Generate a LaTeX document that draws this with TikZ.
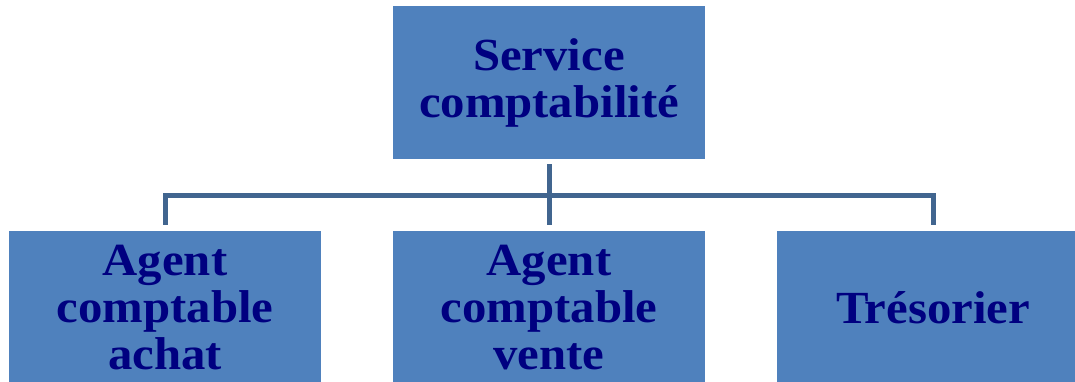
\documentclass[tikz,border=0pt]{standalone}
\usepackage{fontspec}
\setmainfont{Liberation Serif}[FakeStretch=1.06]
\definecolor{boxblue}{HTML}{4F81BD}
\definecolor{linecol}{HTML}{41658F}
\definecolor{txtnavy}{HTML}{000080}
\begin{document}
\begin{tikzpicture}[x=1pt,y=-1pt,
  box/.style={fill=boxblue, draw=none, minimum width=312pt, minimum height=153pt,
    align=center, text=txtnavy, inner sep=0pt,
    font=\fontsize{46}{47}\selectfont\bfseries},
  conn/.style={draw=linecol, line width=5pt}]
\useasboundingbox (0,0) rectangle (1075,382);
\node[box] (top) at (549,82.5) {Service\\comptabilité};
\node[box] (left) at (165,307.5) {Agent\\comptable\\achat};
\node[box] (mid) at (549,307.5) {Agent\\comptable\\vente};
\node[box] (right) at (933,307.5) {Trésorier};
\coordinate (hub) at (549,195.5);
\draw[conn] ([yshift=-5pt]top.south) -- ([yshift=6pt]mid.north);
\draw[conn] ([yshift=6pt]left.north) |- (hub) -| ([yshift=6pt]right.north);
\end{tikzpicture}
\end{document}
